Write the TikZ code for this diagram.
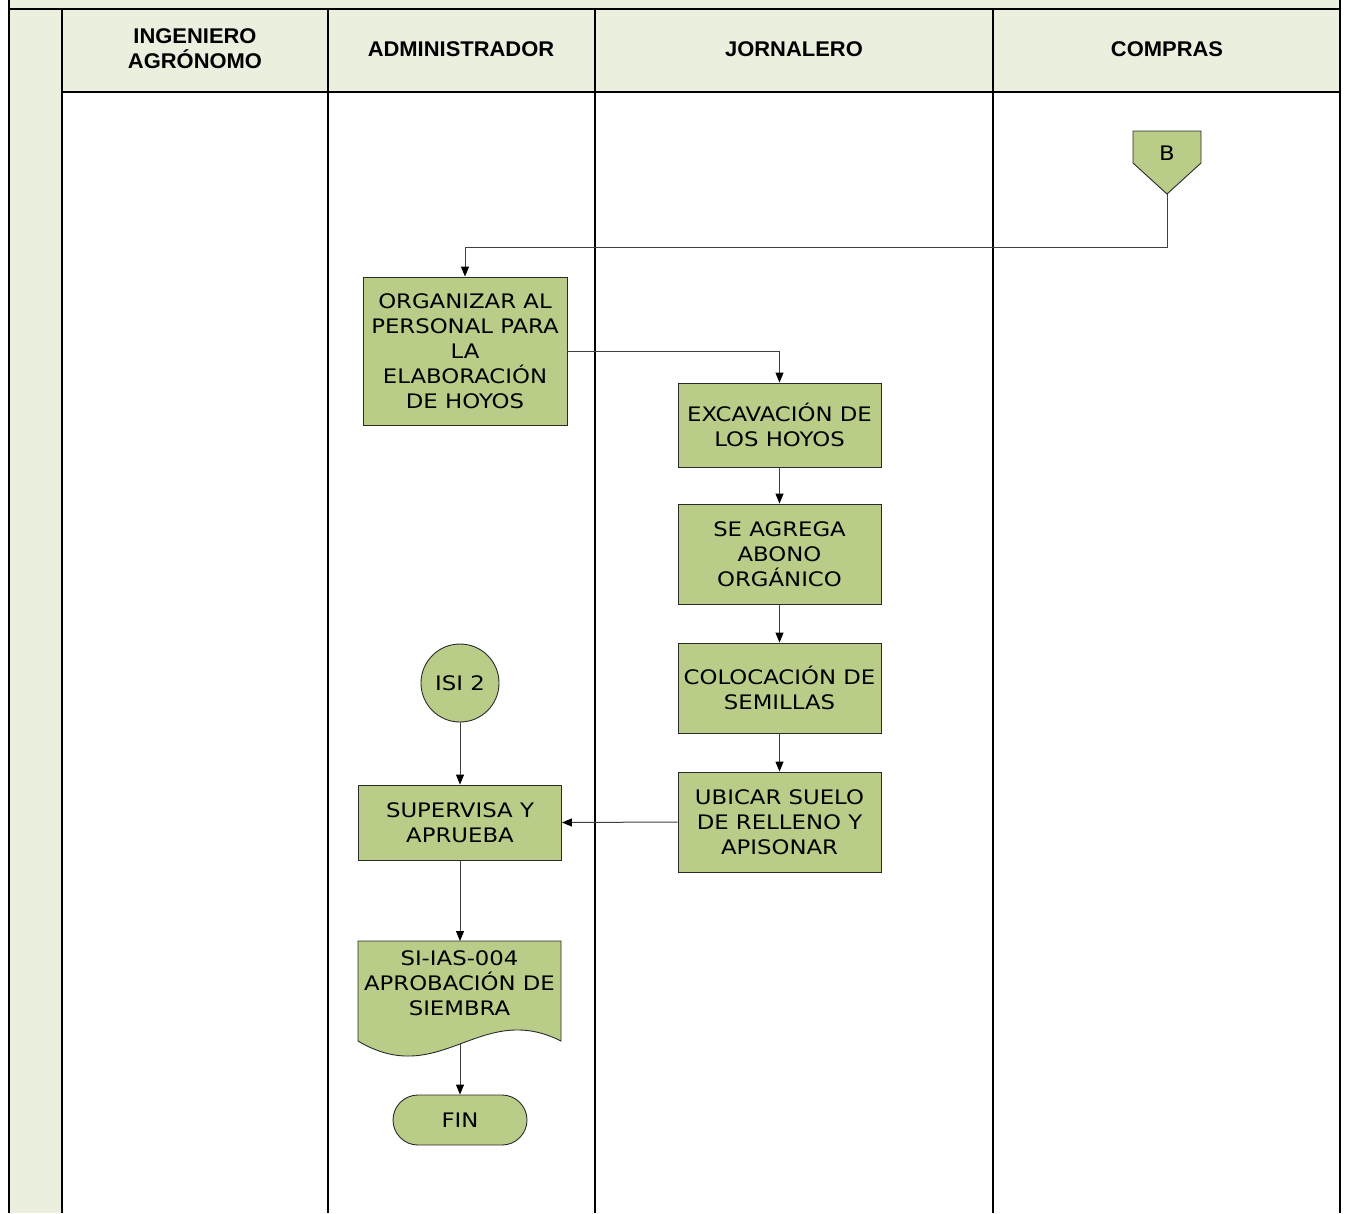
\documentclass[tikz,border=0pt]{standalone}
\usepackage{fontspec}
\setmainfont{DejaVu Sans}[FakeStretch=1.14]
\newfontfamily\hdrfont{Liberation Sans}[FakeStretch=1.03]
\usetikzlibrary{arrows.meta,shapes.misc}
\definecolor{hdrgreen}{HTML}{EBF0DE}
\definecolor{boxgreen}{HTML}{B9CD89}
\definecolor{lineclr}{HTML}{2A2A2A}
\definecolor{connclr}{HTML}{404040}
\tikzset{
  proc/.style={draw=lineclr, fill=boxgreen, line width=0.9pt, minimum width=203pt, inner sep=0pt, align=center, font=\fontsize{20}{25}\selectfont},
  txt/.style={align=center, inner sep=0pt, font=\fontsize{20}{25}\selectfont},
  hdr/.style={align=center, inner sep=0pt, font=\hdrfont\bfseries\fontsize{21.3}{25}\selectfont},
  conn/.style={draw=connclr, line width=1pt, -{Triangle[length=10pt,width=8pt,color=black]}},
  grid/.style={draw=black, line width=1.2pt},
}
\begin{document}
\begin{tikzpicture}[x=1pt,y=-1pt]
\useasboundingbox (0,0) rectangle (1348,1213);
% backgrounds
\fill[hdrgreen] (9,0) rectangle (1340,9);
\fill[hdrgreen] (9,9) rectangle (62,1213);
\fill[hdrgreen] (62,9) rectangle (1340,92);
% grid
\draw[grid] (9,0) -- (9,1213);
\draw[grid] (1340,0) -- (1340,1213);
\draw[grid] (9,9) -- (1340,9);
\draw[grid] (62,92) -- (1340,92);
\foreach \x in {62,328,595,993} \draw[grid] (\x,9) -- (\x,1213);
% headers
\node[hdr] (h1) at (195,49) {INGENIERO\\AGRÓNOMO};
\node[hdr] (h2) at (461,49) {ADMINISTRADOR};
\node[hdr] (h3) at (794,49) {JORNALERO};
\node[hdr] (h4) at (1167,49) {COMPRAS};
% off-page connector B
\draw[draw=lineclr, fill=boxgreen, line width=0.9pt] (1133,131) -- (1201,131) -- (1201,163) -- (1167,194) -- (1133,163) -- cycle;
\node[txt] (B) at (1167,153) {B};
\coordinate (Bbot) at (1167,194);
% process boxes
\node[proc, minimum width=204pt, minimum height=148pt] (org) at (465,351) {ORGANIZAR AL\\PERSONAL PARA\\LA\\ELABORACIÓN\\DE HOYOS};
\node[proc, minimum height=84pt] (exc) at (779.5,425) {EXCAVACIÓN DE\\LOS HOYOS};
\node[proc, minimum height=100pt] (abo) at (779.5,554) {SE AGREGA\\ABONO\\ORGÁNICO};
\node[proc, minimum height=90pt] (sem) at (779.5,688) {COLOCACIÓN DE\\SEMILLAS};
\node[proc, minimum height=100pt] (ubi) at (779.5,822) {UBICAR SUELO\\DE RELLENO Y\\APISONAR};
\node[draw=lineclr, fill=boxgreen, line width=0.9pt, circle, minimum size=78pt, inner sep=0pt, font=\fontsize{20}{25}\selectfont] (isi) at (460,683) {ISI 2};
\node[proc, minimum height=75pt] (sup) at (460,822.5) {SUPERVISA Y\\APRUEBA};
% document shape
\draw[draw=lineclr, fill=boxgreen, line width=0.9pt] (358,941) -- (561,941) -- (561,1041) .. controls (480,1000) and (440,1090) .. (358,1041) -- cycle;
\node[txt] (doc) at (459.5,983) {SI-IAS-004\\APROBACIÓN DE\\SIEMBRA};
\coordinate (docbot) at (460,1044);
\coordinate (doctop) at (460,941);
\node[draw=lineclr, fill=boxgreen, line width=0.9pt, rounded rectangle, minimum width=134pt, minimum height=50pt, inner sep=0pt, font=\fontsize{20}{25}\selectfont] (fin) at (460,1120) {FIN};
% connectors
\draw[conn] (Bbot) -- (1167,247) -| (org.north);
\draw[conn] (org.east) -| (exc.north);
\draw[conn] (exc) -- (abo);
\draw[conn] (abo) -- (sem);
\draw[conn] (sem) -- (ubi);
\draw[conn] (ubi.west) -- (sup.east);
\draw[conn] (isi.south) -- (sup.north);
\draw[conn] (sup.south) -- (doctop);
\draw[conn] (docbot) -- (fin.north);
\end{tikzpicture}
\end{document}
